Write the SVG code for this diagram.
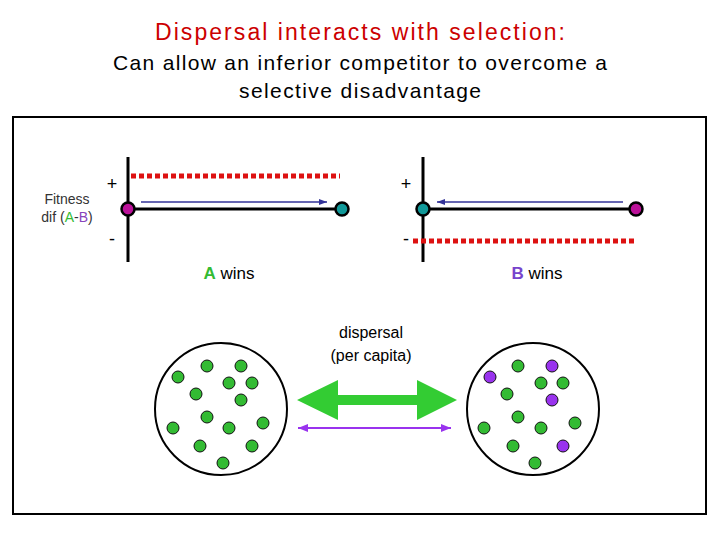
<svg xmlns="http://www.w3.org/2000/svg" width="720" height="540" viewBox="0 0 720 540">
<defs>
<style>
text{font-family:"Liberation Sans",Arial,sans-serif}
.g{fill:#33bb33;stroke:#111;stroke-width:1}
.p{fill:#9933ee;stroke:#111;stroke-width:1}
.red{stroke:#dd1111;stroke-width:5;stroke-dasharray:5,3}
.ax{stroke:#000;stroke-width:3}
</style>
<marker id="bl" markerWidth="8" markerHeight="6" refX="8" refY="3" orient="auto-start-reverse" markerUnits="userSpaceOnUse"><path d="M0,0L8,3L0,6z" fill="#333399"/></marker>
<marker id="pu" markerWidth="10" markerHeight="8" refX="10" refY="4" orient="auto-start-reverse" markerUnits="userSpaceOnUse"><path d="M0,0L10,4L0,8z" fill="#9933ee"/></marker>
</defs>
<rect width="720" height="540" fill="#fff"/>
<text x="155" y="40" font-size="23" fill="#cc0000" textLength="410" lengthAdjust="spacing">Dispersal interacts with selection:</text>
<text x="113" y="70" font-size="21" textLength="494" lengthAdjust="spacing">Can allow an inferior competitor to overcome a</text>
<text x="239" y="98" font-size="21" textLength="242" lengthAdjust="spacing">selective disadvantage</text>
<rect x="13" y="117" width="693" height="397" fill="none" stroke="#000" stroke-width="2"/>
<g id="panelA">
<text x="67" y="204" font-size="14" text-anchor="middle" fill="#333">Fitness</text>
<text x="67" y="222" font-size="14" text-anchor="middle" fill="#333">dif (<tspan fill="#33bb33">A</tspan>-<tspan fill="#8844bb">B</tspan>)</text>
<text x="112" y="190" font-size="18" text-anchor="middle">+</text>
<text x="112" y="245" font-size="18" text-anchor="middle">-</text>
<line class="ax" x1="128" y1="157" x2="128" y2="262"/>
<line class="red" x1="131" y1="176" x2="340" y2="176"/>
<line class="ax" x1="128" y1="209" x2="342" y2="209"/>
<line x1="141" y1="202" x2="327" y2="202" stroke="#333399" stroke-width="1.5" marker-end="url(#bl)"/>
<circle cx="128" cy="209" r="6.5" fill="#bb1199" stroke="#000" stroke-width="2.5"/>
<circle cx="342" cy="209" r="6.5" fill="#119999" stroke="#000" stroke-width="2.5"/>
<text x="229" y="279" font-size="17" text-anchor="middle"><tspan fill="#33bb33" font-weight="bold">A</tspan> wins</text>
</g>
<g id="panelB">
<text x="406" y="190" font-size="18" text-anchor="middle">+</text>
<text x="406" y="245" font-size="18" text-anchor="middle">-</text>
<line class="ax" x1="423" y1="157" x2="423" y2="262"/>
<line class="red" x1="413" y1="241" x2="636" y2="241"/>
<line class="ax" x1="423" y1="209" x2="636" y2="209"/>
<line x1="437" y1="202" x2="623" y2="202" stroke="#333399" stroke-width="1.5" marker-start="url(#bl)"/>
<circle cx="423" cy="209" r="6.5" fill="#119999" stroke="#000" stroke-width="2.5"/>
<circle cx="636" cy="209" r="6.5" fill="#bb1199" stroke="#000" stroke-width="2.5"/>
<text x="537" y="279" font-size="17" text-anchor="middle"><tspan fill="#7744cc" font-weight="bold">B</tspan> wins</text>
</g>
<g id="patch1">
<circle cx="221" cy="409" r="66" fill="none" stroke="#000" stroke-width="2"/>
<circle class="g" cx="178" cy="377" r="6"/><circle class="g" cx="207" cy="366" r="6"/><circle class="g" cx="241" cy="366" r="6"/>
<circle class="g" cx="229" cy="383" r="6"/><circle class="g" cx="252" cy="383" r="6"/><circle class="g" cx="196" cy="394" r="6"/>
<circle class="g" cx="241" cy="400" r="6"/><circle class="g" cx="207" cy="417" r="6"/><circle class="g" cx="263" cy="423" r="6"/>
<circle class="g" cx="173" cy="428" r="6"/><circle class="g" cx="229" cy="428" r="6"/><circle class="g" cx="200" cy="446" r="6"/>
<circle class="g" cx="252" cy="446" r="6"/><circle class="g" cx="223" cy="463" r="6"/>
</g>
<g id="patch2">
<circle cx="533" cy="409" r="66" fill="none" stroke="#000" stroke-width="2"/>
<circle class="p" cx="490" cy="377" r="6"/><circle class="g" cx="518" cy="366" r="6"/><circle class="p" cx="552" cy="366" r="6"/>
<circle class="g" cx="541" cy="383" r="6"/><circle class="g" cx="563" cy="383" r="6"/><circle class="g" cx="507" cy="394" r="6"/>
<circle class="p" cx="552" cy="400" r="6"/><circle class="g" cx="518" cy="417" r="6"/><circle class="g" cx="575" cy="423" r="6"/>
<circle class="g" cx="484" cy="428" r="6"/><circle class="g" cx="541" cy="428" r="6"/><circle class="g" cx="513" cy="446" r="6"/>
<circle class="p" cx="563" cy="446" r="6"/><circle class="g" cx="535" cy="463" r="6"/>
</g>
<g id="connectors">
<text x="371" y="338" font-size="16" text-anchor="middle">dispersal</text>
<text x="371" y="361" font-size="16" text-anchor="middle">(per capita)</text>
<path d="M297,400L338,380L338,395L417,395L417,380L457,400L417,420L417,405L338,405L338,420z" fill="#33cc33"/>
<line x1="298" y1="428" x2="451" y2="428" stroke="#9933ee" stroke-width="2" marker-start="url(#pu)" marker-end="url(#pu)"/>
</g>
</svg>
